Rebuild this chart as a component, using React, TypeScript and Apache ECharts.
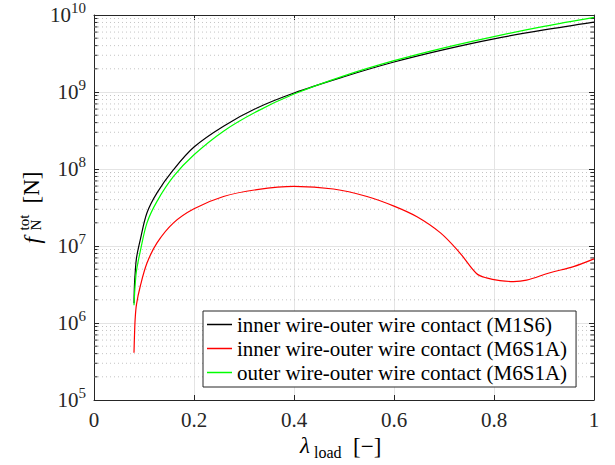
import React, { useEffect, useRef } from "react";
import * as echarts from "echarts";

// ---- data ----
const xBlack = [0.08, 0.081, 0.0824, 0.085, 0.0925, 0.106, 0.126, 0.159, 0.2, 0.259, 0.326, 0.4, 0.5, 0.6, 0.7, 0.8, 0.9, 1.0];
const vBlack = [1.8e6, 3.2e6, 4.5e6, 7.0e6, 1.2e7, 2.7e7, 4.9e7, 9.8e7, 1.93e8, 3.6e8, 6.2e8, 9.7e8, 1.58e9, 2.45e9, 3.55e9, 4.9e9, 6.4e9, 8.1e9];

const xGreen = [0.08, 0.081, 0.0824, 0.085, 0.0925, 0.106, 0.126, 0.159, 0.2, 0.259, 0.326, 0.4, 0.5, 0.6, 0.7, 0.8, 0.9, 1.0];
const vGreen = [1.7e6, 2.3e6, 3.2e6, 4.8e6, 8.5e6, 2.0e7, 3.8e7, 8.0e7, 1.53e8, 3.1e8, 5.6e8, 9.4e8, 1.62e9, 2.55e9, 3.75e9, 5.25e9, 7.1e9, 9.3e9];

const xRed = [0.08, 0.081, 0.0824, 0.085, 0.0925, 0.106, 0.126, 0.159, 0.2, 0.259, 0.326, 0.4, 0.479, 0.546, 0.6, 0.646, 0.693, 0.732, 0.765, 0.785, 0.812, 0.839, 0.865, 0.912, 0.959, 1.0];
const vRed = [4.1e5, 7.0e5, 1.15e6, 1.75e6, 3.0e6, 6.0e6, 1.1e7, 2.0e7, 3.05e7, 4.4e7, 5.4e7, 5.95e7, 5.5e7, 4.4e7, 3.3e7, 2.4e7, 1.48e7, 8.1e6, 4.4e6, 3.85e6, 3.55e6, 3.45e6, 3.6e6, 4.5e6, 5.4e6, 6.8e6];

const seriesNames = [
  "inner wire-outer wire contact (M1S6)",
  "inner wire-outer wire contact (M6S1A)",
  "outer wire-outer wire contact (M6S1A)",
];
const seriesColors = ["#000000", "#ff0000", "#00ff00"];

const xTickLabels = ["0", "0.2", "0.4", "0.6", "0.8", "1"];
const yDecades = [5, 6, 7, 8, 9];
const minorMultipliers = [2, 3, 4, 5, 6, 7, 8, 9];

const FONT = "Liberation Serif";
const AXIS_COLOR = "#262626";

export default function App() {
  const ref = useRef<HTMLDivElement>(null);

  useEffect(() => {
    if (!ref.current) return;
    const chart = echarts.init(ref.current, undefined, { renderer: "svg" });

    const minorValues: number[] = [];
    yDecades.forEach((d) => minorMultipliers.forEach((k) => minorValues.push(k * Math.pow(10, d))));

    const toPairs = (xs: number[], vs: number[]) => xs.map((x, i) => [x, vs[i]]);

    const lineSeries = [
      { xs: xBlack, vs: vBlack },
      { xs: xRed, vs: vRed },
      { xs: xGreen, vs: vGreen },
    ].map((s, i) => ({
      type: "line",
      name: seriesNames[i],
      data: toPairs(s.xs, s.vs),
      symbol: "none",
      showSymbol: false,
      smooth: 0.35,
      lineStyle: { color: seriesColors[i], width: 1.2 },
      itemStyle: { color: seriesColors[i] },
      z: 3 + i,
      silent: true,
    }));

    const txt = (text: string, x: number, y: number, size: number, italic = false) => ({
      type: "text",
      x,
      y,
      style: {
        text,
        fontFamily: FONT,
        fontSize: size,
        fontStyle: italic ? "italic" : "normal",
        fill: "#000",
        align: "left",
        verticalAlign: "middle",
        textAlign: "left",
        textVerticalAlign: "middle",
      },
    });

    const option: any = {
      animation: false,
      backgroundColor: "#ffffff",
      textStyle: { fontFamily: FONT },
      grid: { left: 94, right: 21, top: 15, bottom: 65, outerBoundsMode: "none", containLabel: false },
      xAxis: [
        {
          type: "value",
          min: 0,
          max: 1,
          interval: 0.2,
          position: "bottom",
          axisLine: { show: true, onZero: false, lineStyle: { color: AXIS_COLOR, width: 1 } },
          axisTick: { show: true, inside: true, length: 5, lineStyle: { color: AXIS_COLOR } },
          axisLabel: {
            show: true,
            margin: 9,
            fontFamily: FONT,
            fontSize: 21,
            color: AXIS_COLOR,
            formatter: (v: number) => xTickLabels[Math.round(v * 5)] ?? "",
          },
          splitLine: { show: true, lineStyle: { color: "#e4e4e4", width: 1 } },
        },
        {
          type: "value",
          min: 0,
          max: 1,
          interval: 0.2,
          position: "top",
          axisLine: { show: true, onZero: false, lineStyle: { color: AXIS_COLOR, width: 1 } },
          axisTick: { show: true, inside: true, length: 5, lineStyle: { color: AXIS_COLOR } },
          axisLabel: { show: false },
          splitLine: { show: false },
        },
      ],
      yAxis: [
        {
          type: "log",
          logBase: 10,
          min: 1e5,
          max: 1e10,
          splitNumber: 5,
          position: "left",
          axisLine: { show: true, onZero: false, lineStyle: { color: AXIS_COLOR, width: 1 } },
          axisTick: { show: true, inside: true, length: 5, lineStyle: { color: AXIS_COLOR } },
          axisLabel: {
            show: true,
            margin: 8,
            color: AXIS_COLOR,
            fontFamily: FONT,
            formatter: (v: number) => `{b|10}{s|${Math.round(Math.log10(v))}}`,
            rich: {
              b: { fontFamily: FONT, fontSize: 21, color: AXIS_COLOR, lineHeight: 21, verticalAlign: "bottom" },
              s: { fontFamily: FONT, fontSize: 15, color: AXIS_COLOR, lineHeight: 15, padding: [0, 0, 10, 0], verticalAlign: "bottom" },
            },
          },
          splitLine: { show: true, lineStyle: { color: "#e4e4e4", width: 1 } },
        },
        {
          type: "log",
          logBase: 10,
          min: 1e5,
          max: 1e10,
          splitNumber: 5,
          position: "right",
          axisLine: { show: true, onZero: false, lineStyle: { color: AXIS_COLOR, width: 1 } },
          axisTick: { show: true, inside: true, length: 5, lineStyle: { color: AXIS_COLOR } },
          axisLabel: { show: false },
          splitLine: { show: false },
        },
      ],
      legend: {
        show: true,
        orient: "vertical",
        left: 203,
        top: 311,
        data: seriesNames,
        icon: "rect",
        itemWidth: 25,
        itemHeight: 1.5,
        itemGap: 3,
        padding: [3, 9, 4, 4],
        borderColor: AXIS_COLOR,
        borderWidth: 1,
        borderRadius: 0,
        backgroundColor: "#ffffff",
        selectedMode: false,
        textStyle: { fontFamily: FONT, fontSize: 21, color: "#000000", lineHeight: 21 },
      },
      series: [
        {
          type: "custom",
          silent: true,
          z: 1,
          xAxisIndex: 0,
          yAxisIndex: 0,
          data: minorValues.map((v) => [0, v]),
          renderItem: (_params: any, api: any) => {
            const v = api.value(1);
            const p0 = api.coord([0, v]);
            const p1 = api.coord([1, v]);
            return {
              type: "group",
              children: [
                {
                  type: "line",
                  shape: { x1: p0[0], y1: p0[1], x2: p1[0], y2: p1[1] },
                  style: { stroke: "#c4c4c4", lineWidth: 1, lineDash: [1, 3] },
                },
                {
                  type: "line",
                  shape: { x1: p0[0], y1: p0[1], x2: p0[0] + 3.5, y2: p0[1] },
                  style: { stroke: AXIS_COLOR, lineWidth: 1 },
                },
                {
                  type: "line",
                  shape: { x1: p1[0] - 3.5, y1: p1[1], x2: p1[0], y2: p1[1] },
                  style: { stroke: AXIS_COLOR, lineWidth: 1 },
                },
              ],
            };
          },
        },
        ...lineSeries,
      ],
      graphic: [
        txt("λ", 300, 445, 23, true),
        txt("load", 314, 452, 16),
        txt("[−]", 353, 446, 23),
        {
          type: "group",
          x: 31.5,
          y: 208.5,
          rotation: Math.PI / 2,
          children: [
            txt("f", -35, 1, 23, true),
            txt("tot", -22, -8, 15),
            txt("N", -22, 4, 15),
            txt("[N]", 5, 0, 23),
          ],
        },
      ],
    };

    chart.setOption(option);
    return () => chart.dispose();
  }, []);

  return (
    <div
      ref={ref}
      style={{ position: "absolute", left: 0, top: 0, width: 615, height: 465, background: "#fff" }}
    />
  );
}
